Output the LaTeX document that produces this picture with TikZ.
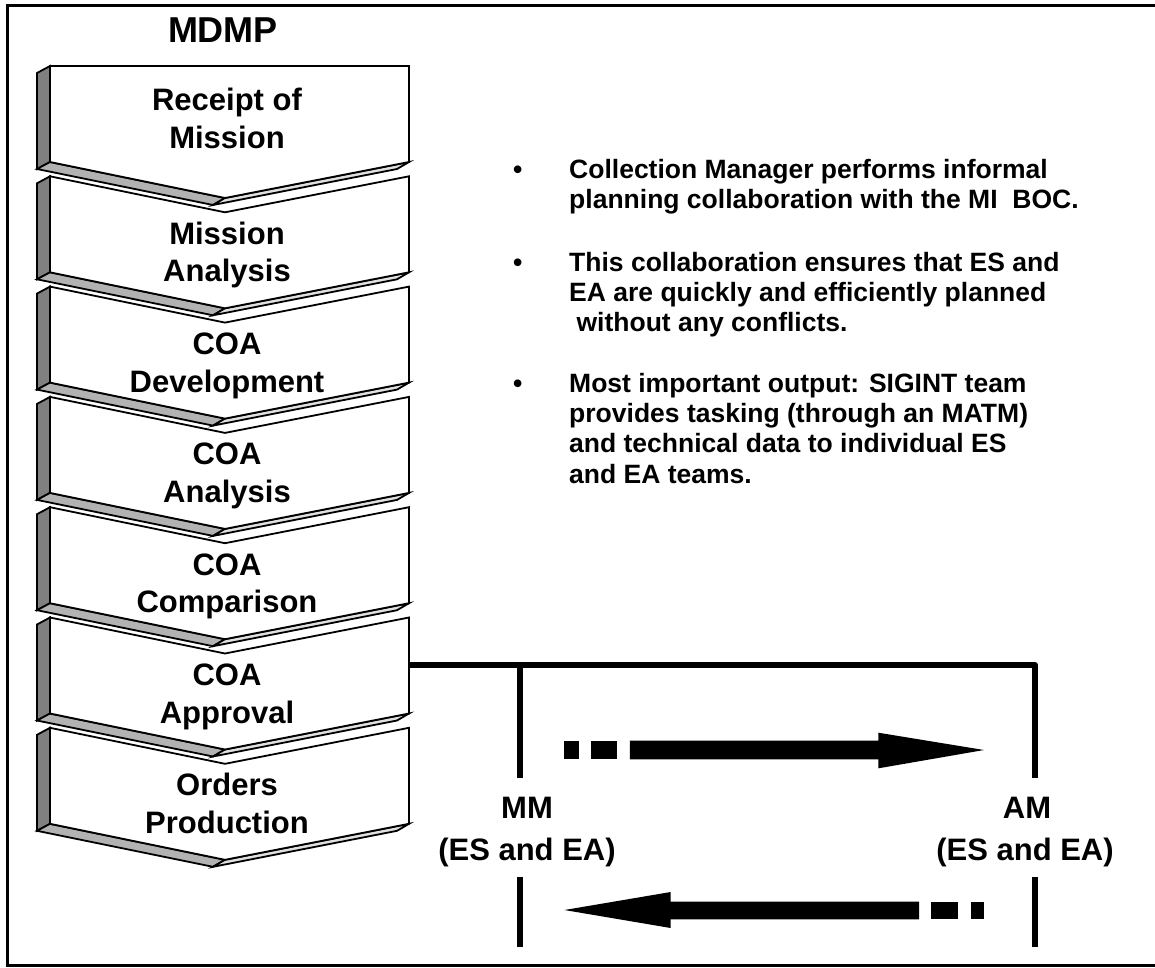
\documentclass[tikz,border=0pt]{standalone}
\usepackage{fontspec}
\setmainfont{Liberation Sans}
\definecolor{cdark}{gray}{0.50}
\definecolor{cmid}{gray}{0.70}
\definecolor{clight}{gray}{0.88}
\tikzset{
  chevline/.style={draw=black, line width=1.8pt, line join=miter},
  frameline/.style={draw=black, line width=3.5pt, line join=miter},
  bracketline/.style={draw=black, line width=6pt, line join=round},
  blockarrow/.style={fill=black},
  titletxt/.style={font=\bfseries\fontsize{36}{42}\selectfont, inner sep=0pt, anchor=base},
  chevtxt/.style={font=\bfseries\fontsize{31}{38}\selectfont, inner sep=0pt, anchor=base},
  labtxt/.style={font=\bfseries\fontsize{31}{42}\selectfont, inner sep=0pt, anchor=base},
  bultxt/.style={font=\bfseries\fontsize{26.5}{30}\selectfont, inner sep=0pt, anchor=base west},
}
\newcommand\mychevron[2]{%
  \draw[chevline, fill=cdark] (50,#1) -- (37,#1+7) -- (37,#1+103) -- (50,#1+96) -- cycle;
  \draw[chevline, fill=cmid] (50,#1+96) -- (225,#1+132) -- (213,#1+139) -- (37,#1+103) -- cycle;
  \draw[chevline, fill=clight] (225,#1+132) -- (409,#1+96) -- (397,#1+103) -- (213,#1+139) -- cycle;
  \draw[chevline, fill=white] (50,#1) -- (225,#1+#2) -- (409,#1) -- (409,#1+96) -- (225,#1+132) -- (50,#1+96) -- cycle;
}
\begin{document}
\begin{tikzpicture}[x=1pt,y=-1pt]
\useasboundingbox (0,0) rectangle (1155,967);
\fill[white] (0,0) rectangle (1155,967);
% frame
\draw[frameline] (1156,5.5) -- (7.5,5.5) -- (7.5,965.5) -- (1156,965.5);

% title
\node[titletxt] (title) at (223,42) {MDMP};

% chevrons
\mychevron{66}{0}
\mychevron{176.3}{36}
\mychevron{286.6}{36}
\mychevron{396.9}{36}
\mychevron{507.2}{36}
\mychevron{617.5}{36}
\mychevron{727.8}{36}

\node[chevtxt] (s1a) at (227,110) {Receipt of};
\node[chevtxt] (s1b) at (227,148) {Mission};
\node[chevtxt] (s2a) at (227,244.3) {Mission};
\node[chevtxt] (s2b) at (227,281.8) {Analysis};
\node[chevtxt] (s3a) at (227,354.6) {COA};
\node[chevtxt] (s3b) at (227,392.1) {Development};
\node[chevtxt] (s4a) at (227,464.9) {COA};
\node[chevtxt] (s4b) at (227,502.4) {Analysis};
\node[chevtxt] (s5a) at (227,575.2) {COA};
\node[chevtxt] (s5b) at (227,612.7) {Comparison};
\node[chevtxt] (s6a) at (227,685.5) {COA};
\node[chevtxt] (s6b) at (227,723) {Approval};
\node[chevtxt] (s7a) at (227,795.8) {Orders};
\node[chevtxt] (s7b) at (227,833.3) {Production};

% bullets
\node[bultxt] (d1) at (513,178) {•};
\node[bultxt] (b1a) at (569,178) {Collection Manager performs informal};
\node[bultxt] (b1b) at (569,208) {planning collaboration with the MI\ \ BOC.};
\node[bultxt] (d2) at (513,271) {•};
\node[bultxt] (b2a) at (569,271) {This collaboration ensures that ES and};
\node[bultxt] (b2b) at (569,301) {EA are quickly and efficiently planned};
\node[bultxt] (b2c) at (569,331) {\ without any conflicts.};
\node[bultxt] (d3) at (513,392) {•};
\node[bultxt] (b3a) at (569,392) {Most important output: SIGINT team};
\node[bultxt] (b3b) at (569,422) {provides tasking (through an MATM)};
\node[bultxt] (b3c) at (569,452) {and technical data to individual ES};
\node[bultxt] (b3d) at (569,483) {and EA teams.};

% labels
\node[labtxt] (mm) at (527,818) {MM};
\node[labtxt] (mmsub) at (527,860) {(ES and EA)};
\node[labtxt] (am) at (1027,818) {AM};
\node[labtxt] (amsub) at (1025,860) {(ES and EA)};

% bracket connector
\coordinate (apr) at (409,665);
\coordinate (mmtop) at (520,665);
\coordinate (amtop) at (1035,665);
\coordinate (mmmid) at (520,778);
\coordinate (ammid) at (1035,778);
\coordinate (mmlo1) at (520,877);
\coordinate (mmlo2) at (520,947);
\coordinate (amlo1) at (1035,877);
\coordinate (amlo2) at (1035,947);
\draw[bracketline] (apr) -- (amtop) -- (ammid);
\draw[bracketline] (mmtop) -- (mmmid);
\draw[bracketline] (mmlo1) -- (mmlo2);
\draw[bracketline] (amlo1) -- (amlo2);

% upper arrow (to the right)
\fill[blockarrow] (564.4,740.7) rectangle (578.8,759.3);
\fill[blockarrow] (590.9,740.7) rectangle (617.3,759.3);
\fill[blockarrow] (629.8,740.7) -- (878.4,740.7) -- (878.4,732.7) -- (984,750) -- (878.4,768.3) -- (878.4,759.3) -- (629.8,759.3) -- cycle;

% lower arrow (to the left)
\fill[blockarrow] (564.4,910) -- (670.7,892) -- (670.7,901.7) -- (919,901.7) -- (919,919.3) -- (670.7,919.3) -- (670.7,928) -- cycle;
\fill[blockarrow] (931,901.7) rectangle (957.7,919.3);
\fill[blockarrow] (970.7,901.7) rectangle (984,919.3);
\end{tikzpicture}
\end{document}
